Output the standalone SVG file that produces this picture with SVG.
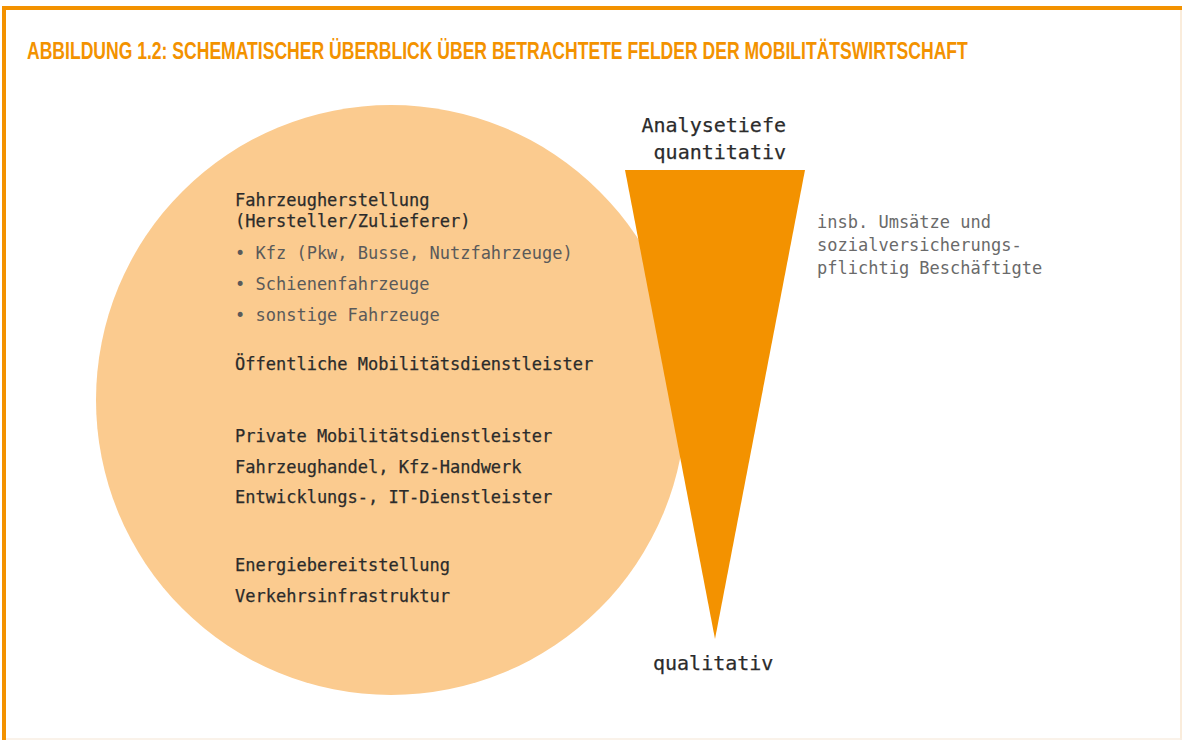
<svg xmlns="http://www.w3.org/2000/svg" width="1182" height="740" viewBox="0 0 1182 740">
<style>
.title{font-family:"Liberation Sans",Arial,sans-serif;font-weight:bold;font-size:23px;fill:#F39200}
.t{font-family:"DejaVu Sans Mono","Liberation Mono",monospace;font-size:17px;fill:#2b2b2b;stroke:#2b2b2b;stroke-width:0.25}
.b{font-family:"DejaVu Sans Mono","Liberation Mono",monospace;font-size:17px;fill:#5a5a5a}
.n{font-family:"DejaVu Sans Mono","Liberation Mono",monospace;font-size:17px;fill:#6a6a6a}
.h{font-family:"DejaVu Sans Mono","Liberation Mono",monospace;font-size:20px;fill:#2b2b2b;stroke:#2b2b2b;stroke-width:0.25}
</style>
<rect x="0" y="0" width="1182" height="740" fill="#ffffff"/>
<g id="frame">
<line x1="1181" y1="10" x2="1181" y2="740" stroke="#F8E6CF" stroke-width="1.5"/>
<line x1="4" y1="739" x2="1182" y2="739" stroke="#F8EEE2" stroke-width="1.5"/>
<line x1="2" y1="8" x2="1182" y2="8" stroke="#F39200" stroke-width="4"/>
<line x1="4" y1="6" x2="4" y2="740" stroke="#F39200" stroke-width="4"/>
</g>
<text class="title" transform="translate(27,59) scale(0.8,1)" x="0" y="0" textLength="1176" lengthAdjust="spacingAndGlyphs">ABBILDUNG 1.2: SCHEMATISCHER ÜBERBLICK ÜBER BETRACHTETE FELDER DER MOBILITÄTSWIRTSCHAFT</text>
<g id="circle">
<circle cx="391" cy="400" r="295" fill="#FBCB8F"/>
</g>
<g id="triangle">
<polygon points="625,170 805,170 715,639" fill="#F39200"/>
</g>
<g id="circle-labels">
<text class="t" x="235" y="206">Fahrzeugherstellung</text>
<text class="t" x="235" y="227">(Hersteller/Zulieferer)</text>
<text class="b" x="235" y="259">• Kfz (Pkw, Busse, Nutzfahrzeuge)</text>
<text class="b" x="235" y="290">• Schienenfahrzeuge</text>
<text class="b" x="235" y="321">• sonstige Fahrzeuge</text>
<text class="t" x="235" y="370">Öffentliche Mobilitätsdienstleister</text>
<text class="t" x="235" y="442">Private Mobilitätsdienstleister</text>
<text class="t" x="235" y="473">Fahrzeughandel, Kfz-Handwerk</text>
<text class="t" x="235" y="503">Entwicklungs-, IT-Dienstleister</text>
<text class="t" x="235" y="571">Energiebereitstellung</text>
<text class="t" x="235" y="602">Verkehrsinfrastruktur</text>
</g>
<g id="axis-labels">
<text class="h" x="786" y="132" text-anchor="end">Analysetiefe</text>
<text class="h" x="786" y="159" text-anchor="end">quantitativ</text>
<text class="h" x="653" y="670">qualitativ</text>
</g>
<g id="note">
<text class="n" x="817" y="228">insb. Umsätze und</text>
<text class="n" x="817" y="251">sozialversicherungs-</text>
<text class="n" x="817" y="274">pflichtig Beschäftigte</text>
</g>
</svg>
